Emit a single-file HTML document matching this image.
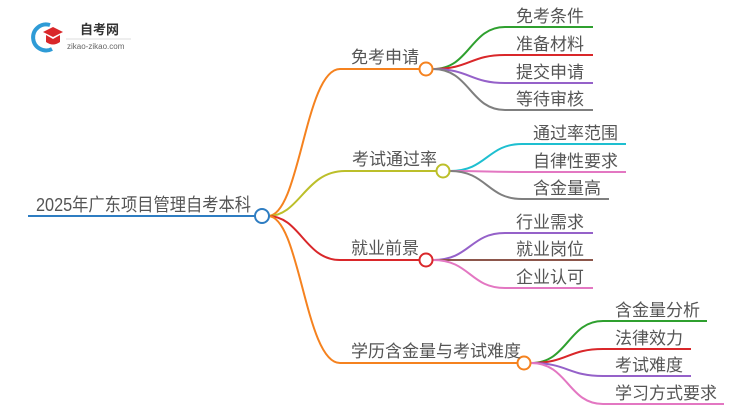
<!DOCTYPE html>
<html><head><meta charset="utf-8"><style>
body{margin:0;background:#fff;width:750px;height:410px;overflow:hidden}
text{font-family:"Liberation Sans","Noto Sans CJK SC",sans-serif;fill:#555;font-size:17px}
</style></head><body>
<svg width="750" height="410" viewBox="0 0 750 410" xmlns="http://www.w3.org/2000/svg">
<g fill="none" stroke-width="2">
<line x1="28" y1="216" x2="256" y2="216" stroke="#2e7dc2"/>
<path d="M268 216 C300 216 305 69 340 69 L419 69" stroke="#f5821f"/>
<path d="M268 216 C300 216 305 171 345 171 L436 171" stroke="#bcbf2a"/>
<path d="M268 216 C300 216 305 260 340 260 L419 260" stroke="#d9272a"/>
<path d="M268 216 C300 216 305 363 340 363 L517 363" stroke="#f5821f"/>
<path d="M433 69 C470 69 470 27 505 27 L593 27" stroke="#2fa02f"/>
<path d="M433 69 C470 69 470 55 505 55 L593 55" stroke="#d9272a"/>
<path d="M433 69 C470 69 470 83 505 83 L593 83" stroke="#9561c9"/>
<path d="M433 69 C470 69 470 110 505 110 L593 110" stroke="#7f7f7f"/>
<path d="M450 171 C487 171 487 144 522 144 L626 144" stroke="#1ebfd0"/>
<path d="M450 171 C487 171 487 172 522 172 L626 172" stroke="#e377c2"/>
<path d="M450 171 C487 171 487 199 522 199 L609 199" stroke="#7f7f7f"/>
<path d="M433 260 C470 260 470 233 505 233 L593 233" stroke="#9561c9"/>
<path d="M433 260 L593 260" stroke="#8c564b"/>
<path d="M433 260 C470 260 470 288 505 288 L593 288" stroke="#e377c2"/>
<path d="M531 363 C568 363 568 321 603 321 L707 321" stroke="#2fa02f"/>
<path d="M531 363 C568 363 568 349 603 349 L691 349" stroke="#d9272a"/>
<path d="M531 363 C568 363 568 376 603 376 L691 376" stroke="#9561c9"/>
<path d="M531 363 C568 363 568 404 603 404 L724 404" stroke="#e377c2"/>
</g>
<g fill="#fff" stroke-width="2">
<circle cx="262" cy="216" r="7" stroke="#2e7dc2"/>
<circle cx="426" cy="69" r="6.5" stroke="#f5821f"/>
<circle cx="443" cy="171" r="6.5" stroke="#bcbf2a"/>
<circle cx="426" cy="260" r="6.5" stroke="#d9272a"/>
<circle cx="524" cy="363" r="6.5" stroke="#f5821f"/>
</g>
<text x="36" y="211" style="font-size:18px" textLength="215" lengthAdjust="spacingAndGlyphs">2025年广东项目管理自考本科</text>
<text x="351" y="63">免考申请</text>
<text x="352" y="165">考试通过率</text>
<text x="351" y="254">就业前景</text>
<text x="351" y="357">学历含金量与考试难度</text>
<text x="516" y="22">免考条件</text>
<text x="516" y="50">准备材料</text>
<text x="516" y="78">提交申请</text>
<text x="516" y="105">等待审核</text>
<text x="533" y="139">通过率范围</text>
<text x="533" y="167">自律性要求</text>
<text x="533" y="194">含金量高</text>
<text x="516" y="228">行业需求</text>
<text x="516" y="255">就业岗位</text>
<text x="516" y="283">企业认可</text>
<text x="615" y="316">含金量分析</text>
<text x="615" y="344">法律效力</text>
<text x="615" y="371">考试难度</text>
<text x="615" y="399">学习方式要求</text>
<path d="M50 25 A13 13 0 1 0 52 49" fill="none" stroke="#2e9bd6" stroke-width="4"/>
<path d="M43 32 L53 27 L63 32 L53 37 Z" fill="#d9272a"/>
<path d="M46 35 L46 42 Q53 47 60 42 L60 35 L53 39 Z" fill="#d9272a"/>
<text x="80" y="34" style="font-size:13px;font-weight:bold;fill:#333">自考网</text>
<line x1="66" y1="39" x2="131" y2="39" stroke="#ddd" stroke-width="1"/>
<text x="67" y="49" style="font-size:8px;fill:#666">zikao-zikao.com</text>
</svg>
</body></html>
